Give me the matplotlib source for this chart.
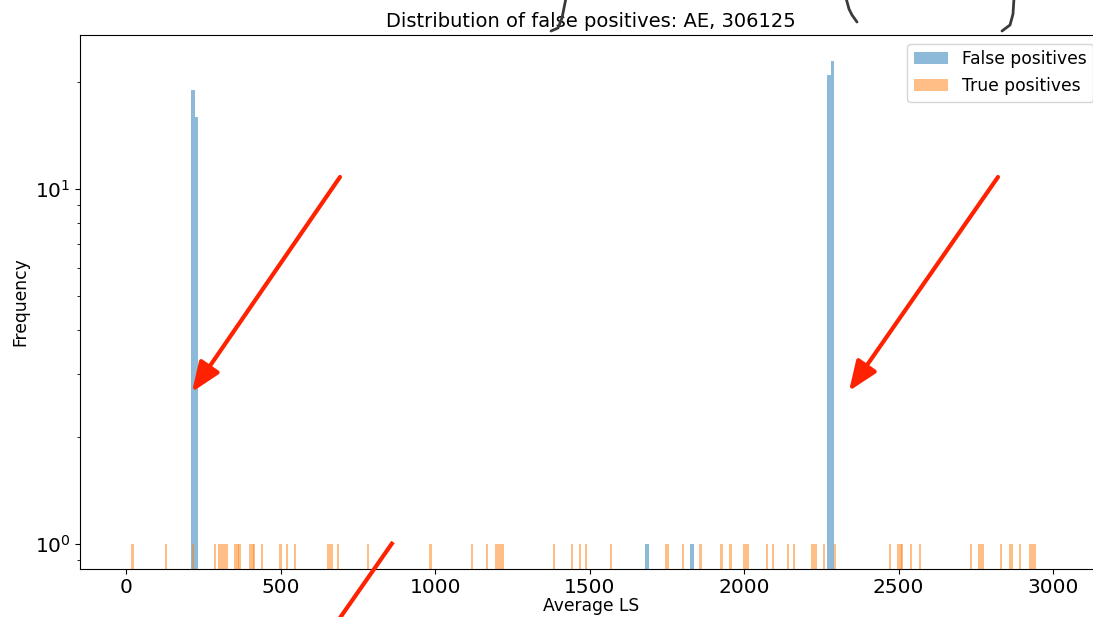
import matplotlib
matplotlib.use("Agg")
import matplotlib.pyplot as plt
from matplotlib.lines import Line2D

# False positives: bin centres (Average LS) and counts
fp_centers = [217, 227, 1686, 1831, 2275, 2286]
fp_counts = [19, 16, 1, 1, 21, 23]

# True positives: bin centres and counts
tp_centers = [21, 129, 218, 287, 300, 307, 314, 321, 328, 354, 361, 367,
              402, 409, 415, 440, 500, 520, 547, 654, 661, 667, 685, 782,
              985, 1120, 1169, 1198, 1205, 1212, 1219, 1384, 1443, 1470,
              1489, 1569, 1746, 1753, 1801, 1859, 1927, 1956, 1999, 2006,
              2013, 2075, 2094, 2142, 2161, 2219, 2226, 2233, 2258, 2295,
              2473, 2499, 2506, 2512, 2540, 2569, 2733, 2759, 2766, 2773,
              2832, 2859, 2866, 2892, 2926, 2933, 2940]
tp_counts = [1, 1, 1, 1, 1, 1, 1, 1, 1, 1, 1, 1,
             1, 1, 1, 1, 1, 1, 1, 1, 1, 1, 1, 1,
             1, 1, 1, 1, 1, 1, 1, 1, 1, 1,
             1, 1, 1, 1, 1, 1, 1, 1, 1, 1,
             1, 1, 1, 1, 1, 1, 1, 1, 1, 1,
             1, 1, 1, 1, 1, 1, 1, 1, 1, 1,
             1, 1, 1, 1, 1, 1, 1]

x_ticks = [0, 500, 1000, 1500, 2000, 2500, 3000]

W, H = 1093, 617
plt.rcParams['font.size'] = 12.3

fig = plt.figure(figsize=(W / 100, H / 100), dpi=100)
ax = fig.add_axes([80 / W, 48.3 / H, 1022 / W, 533.7 / H])

ax.bar(fp_centers, fp_counts, width=10.5, color='#1f77b4', alpha=0.5,
       label='False positives')
ax.bar(tp_centers, tp_counts, width=7, color='#ff7f0e', alpha=0.5,
       label='True positives')

ax.set_yscale('log')
ax.set_ylim(0.85, 27.2)
ax.set_xlim(-149, 3158)
ax.set_xticks(x_ticks)
ax.tick_params(labelsize=14.5)
ax.set_xlabel('Average LS', labelpad=0)
ax.set_ylabel('Frequency')
ax.set_title('Distribution of false positives: AE, 306125', fontsize=14)
ax.legend(loc='upper right')


def px(x, y):
    # image pixel -> figure fraction
    return x / W, 1 - y / H


# red arrows drawn over the screenshot
red = '#ff2200'
for tail, tip in [((340, 177), (192, 392)), ((998, 177), (849, 391))]:
    ax.annotate('', xy=px(*tip), xytext=px(*tail), xycoords='figure fraction',
                arrowprops=dict(arrowstyle='-|>,head_length=1.0,head_width=0.4',
                                color=red, lw=3, mutation_scale=18,
                                shrinkA=0, shrinkB=0),
                annotation_clip=False)

x0, y0 = px(393, 542)
x1, y1 = px(335, 625)
fig.add_artist(Line2D([x0, x1], [y0, y1], transform=fig.transFigure,
                      color=red, lw=3, solid_capstyle='butt'))

# bits of handwriting at the very top
for stroke in [[(566, -2), (562, 18), (558, 28), (551, 31)],
               [(846, -2), (849, 9), (852, 15), (857, 22)],
               [(1014, -2), (1013, 14), (1010, 25), (1002, 31)]]:
    xs = [px(a, b)[0] for a, b in stroke]
    ys = [px(a, b)[1] for a, b in stroke]
    fig.add_artist(Line2D(xs, ys, transform=fig.transFigure,
                          color='#3a3a3a', lw=2, solid_capstyle='round'))

fig.savefig('out.png', dpi=100)
